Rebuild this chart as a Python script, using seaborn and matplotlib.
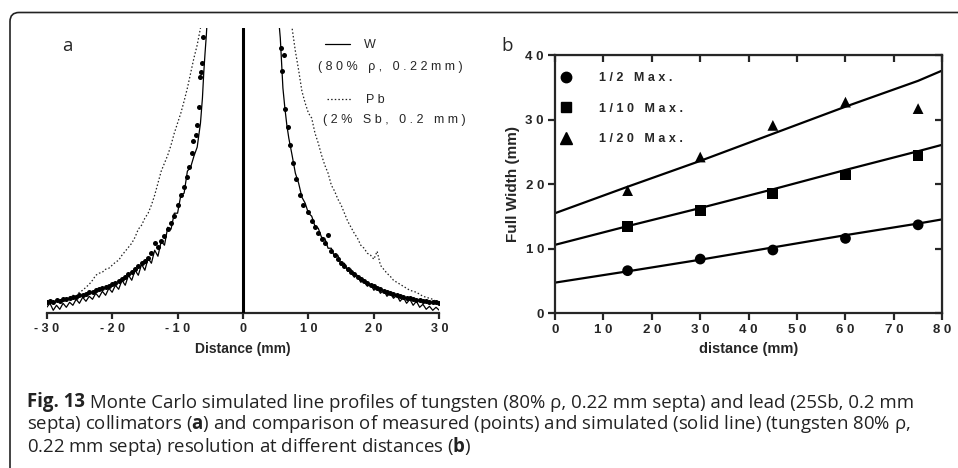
import numpy as np
import pandas as pd
import seaborn as sns
import matplotlib
matplotlib.use("Agg")
import matplotlib.pyplot as plt
from matplotlib.lines import Line2D
from matplotlib.patches import FancyBboxPatch
from matplotlib.transforms import IdentityTransform

sns.set_style("ticks")
plt.rcParams['font.family'] = ['Liberation Sans', 'DejaVu Sans']
plt.rcParams['mathtext.fontset'] = 'custom'
plt.rcParams['mathtext.rm'] = 'Open Sans'
plt.rcParams['mathtext.bf'] = 'Open Sans:bold'

# ---------------- Panel a data (relative counts, arbitrary units) ----------------
w_left_x = [-30, -29.5, -29, -28.5, -28, -27.5, -27, -26.5, -26, -25.5, -25, -24.5, -24, -23.5, -23,
            -22.5, -22, -21.5, -21, -20.5, -20, -19.5, -19, -18.5, -18, -17.5, -17, -16.5, -16, -15.5,
            -15, -14.5, -14, -13.5, -13, -12.5, -12, -11.5, -11, -10.5, -10, -9.5, -9, -8.5, -8, -7.5,
            -7, -6.5, -6.2, -6, -5.8, -5.6, -5.5]
w_left_y = [6, 10, 3, 8, 4, 10, 6, 11, 8, 14, 10, 16, 12, 17, 14,
            20, 16, 22, 18, 25, 21, 28, 24, 33, 28, 38, 33, 43, 38, 49,
            43, 55, 50, 63, 57, 72, 68, 86, 84, 100, 100, 118, 120, 142, 146, 157,
            166, 190, 215, 240, 260, 278, 290]

w_right_x = [5.5, 5.7, 5.9, 6.1, 6.4, 6.7, 7, 7.5, 8, 8.5, 9, 9.5, 10, 10.5, 11, 11.5, 12, 12.5, 13,
             13.5, 14, 14.5, 15, 15.5, 16, 16.5, 17, 17.5, 18, 18.5, 19, 19.5, 20, 20.5, 21, 21.5,
             22, 22.5, 23, 23.5, 24, 24.5, 25, 25.5, 26, 26.5, 27, 27.5, 28, 28.5, 29, 29.5, 30]
w_right_y = [290, 275, 250, 225, 205, 188, 175, 158, 140, 130, 116, 110, 100, 97, 87, 85, 76, 75, 65,
             65, 56, 58, 48, 50, 42, 44, 36, 38, 31, 33, 27, 29, 23, 26, 20, 23,
             17, 20, 15, 18, 12, 16, 10, 14, 8, 12, 6, 9, 4, 7, 3, 6, 3]

pb_left_x = [-30, -29.5, -29, -28.5, -28, -27.5, -27, -26.5, -26, -25.5, -25, -24.5, -24, -23.5, -23,
             -22.5, -22, -21.5, -21, -20.5, -20, -19.5, -19, -18.5, -18, -17.5, -17, -16.5, -16, -15.5,
             -15, -14.5, -14, -13.5, -13, -12.5, -12, -11.5, -11, -10.5, -10, -9.5, -9, -8.5, -8, -7.5,
             -7, -6.5, -6.2]
pb_left_y = [10, 12, 11, 13, 12, 14, 15, 16, 18, 17, 21, 23, 26, 29, 33,
             38, 40, 41, 44, 45, 48, 51, 53, 58, 62, 66, 70, 76, 84, 88,
             95, 100, 108, 118, 130, 142, 150, 158, 168, 180, 190, 200, 212, 225, 240, 255,
             268, 285, 295]

pb_right_x = [7.3, 7.5, 8, 8.5, 9, 9.5, 10, 10.5, 11, 11.5, 12, 12.5, 13, 13.5, 14, 14.5, 15, 15.5,
              16, 16.5, 17, 17.5, 18, 18.5, 19, 19.5, 20, 20.5, 21, 21.5, 22, 22.5, 23, 23.5, 24,
              24.5, 25, 25.5, 26, 26.5, 27, 27.5, 28, 28.5, 29, 29.5, 30]
pb_right_y = [295, 285, 262, 243, 222, 210, 200, 195, 180, 170, 158, 148, 140, 128, 122, 114, 108, 100,
              92, 86, 80, 75, 68, 65, 60, 58, 54, 62, 48, 44, 40, 37, 33, 31, 29,
              27, 25, 23, 22, 21, 19, 17, 16, 15, 14, 12, 11]

meas_x = [-30, -29.5, -29, -28.5, -28, -27.5, -27, -26.5, -26, -25.5, -25, -24.5, -24, -23.5, -23,
          -22.5, -22, -21.5, -21, -20.5, -20, -19.5, -19, -18.5, -18, -17.5, -17, -16.5, -16, -15.5,
          -15, -14.5, -14, -13.5, -13, -12.5, -12, -11.5, -11, -10.5, -10, -9.5, -9, -8.5, -8.2,
          -7.8, -7.6, -7.2, -7.0, -6.7, -6.5, -6.35, -6.2, -6.05,
          5.8, 6.0, 6.2, 6.4, 6.85, 7.2, 7.6, 8.1, 8.7, 9.2, 10, 10.5, 11, 11.5, 12, 12.5, 13,
          13.5, 14, 14.5, 15, 15.5, 16, 16.5, 17, 17.5, 18, 18.5, 19, 19.5, 20, 20.5, 21, 21.5,
          22, 22.5, 23, 23.5, 24, 24.5, 25, 25.5, 26, 26.5, 27, 27.5, 28, 28.5, 29, 29.5, 30]
meas_y = [11, 12, 11, 13, 12, 14, 14, 15, 16, 16, 18, 18, 19, 21, 21,
          23, 24, 25, 26, 27, 29, 30, 32, 34, 36, 39, 41, 44, 47, 50,
          52, 55, 60, 70, 66, 72, 77, 84, 90, 97, 108, 118, 126, 136, 146,
          160, 172, 178, 188, 206, 236, 241, 250, 276,
          265, 242, 258, 204, 186, 168, 150, 134, 118, 108, 101, 92, 86, 80, 74, 70, 78,
          62, 58, 54, 50, 47, 44, 41, 39, 36, 34, 32, 30, 28, 27, 25, 24, 22,
          21, 20, 19, 18, 17, 16, 15, 15, 14, 13, 13, 12, 12, 11, 11, 11, 10]

a_ticks = [-30, -20, -10, 0, 10, 20, 30]

# ---------------- Panel b data ----------------
dist = [15, 30, 45, 60, 75]
half_max = [6.6, 8.4, 9.8, 11.6, 13.7]
tenth_max = [13.4, 15.9, 18.6, 21.4, 24.4]
twentieth_max = [19.0, 24.2, 29.1, 32.7, 31.7]

sim_dist = [0, 15, 30, 45, 60, 75, 80]
sim_half = [4.75, 6.5, 8.3, 10.2, 12.1, 13.9, 14.55]
sim_tenth = [10.6, 13.5, 16.3, 19.2, 22.2, 25.1, 26.1]
sim_twentieth = [15.5, 19.6, 23.6, 27.8, 32.0, 36.0, 37.6]

series_labels = ["1/2 Max.", "1/10 Max.", "1/20 Max."]
b_xticks = [0, 10, 20, 30, 40, 50, 60, 70, 80]
b_yticks = [0, 10, 20, 30, 40]


def spaced(s):
    return " ".join(s)


W, H = 958, 468
fig = plt.figure(figsize=(W / 100, H / 100), dpi=100)


def ax_rect(l, r, t, b):
    return [l / W, 1 - b / H, (r - l) / W, (b - t) / H]


# ---------------- Panel a ----------------
ax = fig.add_axes(ax_rect(46.7, 439.3, 28, 313.3))
for xs, ys in [(w_left_x, w_left_y), (w_right_x, w_right_y)]:
    sns.lineplot(x=xs, y=ys, ax=ax, color="black", lw=0.9, sort=False, estimator=None, zorder=3)
for xs, ys in [(pb_left_x, pb_left_y), (pb_right_x, pb_right_y)]:
    sns.lineplot(x=xs, y=ys, ax=ax, color="#222222", lw=0.9, ls=(0, (1.2, 1.7)), sort=False,
                 estimator=None, zorder=2)
sns.scatterplot(x=meas_x, y=meas_y, ax=ax, color="black", s=13, linewidth=0, zorder=4)
ax.axvline(0, color="black", lw=2.2, zorder=5)
ax.set_xlim(-30, 30)
ax.set_ylim(0, 285)
ax.set_yticks([])
for sp in ["left", "top", "right"]:
    ax.spines[sp].set_visible(False)
ax.spines["bottom"].set_linewidth(1.6)
ax.set_xticks(a_ticks, [spaced(str(v)) for v in a_ticks])
ax.tick_params(axis="x", direction="out", length=4, width=1.6, pad=3, labelsize=9)
for lab in ax.get_xticklabels():
    lab.set_fontweight("bold")
ax.set_xlabel("Distance (mm)", fontsize=10, fontweight="bold", labelpad=5)

# legend of panel a (handles + text, in axes-fraction coords)
def fx(px):
    return (px - 46.7) / (439.3 - 46.7)

def fy(py):
    return (313.3 - py) / (313.3 - 28)

ax.add_line(Line2D([fx(325), fx(350)], [fy(44), fy(44)], transform=ax.transAxes, color="black", lw=0.9))
ax.add_line(Line2D([fx(327), fx(351)], [fy(99), fy(99)], transform=ax.transAxes, color="#222222",
                   lw=0.9, ls=(0, (1.2, 1.7))))
ax.text(fx(364), fy(45), "W", transform=ax.transAxes, fontsize=9, va="center", ha="left")
ax.text(fx(318), fy(67), spaced("(80% ρ, 0.22mm)"), transform=ax.transAxes, fontsize=9,
        va="center", ha="left")
ax.text(fx(366), fy(100), spaced("Pb"), transform=ax.transAxes, fontsize=9, va="center", ha="left")
ax.text(fx(323), fy(120), spaced("(2% Sb, 0.2 mm)"), transform=ax.transAxes, fontsize=9,
        va="center", ha="left")

# ---------------- Panel b ----------------
bx = fig.add_axes(ax_rect(555, 942.3, 55, 313.3))
for ys in [sim_half, sim_tenth, sim_twentieth]:
    sns.lineplot(x=sim_dist, y=ys, ax=bx, color="black", lw=1.6, estimator=None, zorder=2)
meas_df = pd.DataFrame({
    "distance": dist * 3,
    "width": half_max + tenth_max + twentieth_max,
    "series": [series_labels[0]] * 5 + [series_labels[1]] * 5 + [series_labels[2]] * 5,
})
sns.scatterplot(data=meas_df, x="distance", y="width", style="series",
                markers={series_labels[0]: "o", series_labels[1]: "s", series_labels[2]: "^"},
                color="black", s=60, linewidth=0, ax=bx, zorder=3, legend=False)
bx.set_xlim(0, 80)
bx.set_ylim(0, 40)
bx.set_xticks(b_xticks, [spaced(str(v)) for v in b_xticks])
bx.set_yticks(b_yticks, [spaced(str(v)) for v in b_yticks])
for sp in bx.spines.values():
    sp.set_linewidth(1.6)
bx.tick_params(direction="out", length=5, width=1.6, pad=3, labelsize=9.5)
for lab in bx.get_xticklabels() + bx.get_yticklabels():
    lab.set_fontweight("bold")
sec_x = bx.secondary_xaxis("top")
sec_x.set_xticks(b_xticks)
sec_x.tick_params(direction="in", length=5, width=1.6, labeltop=False)
sec_y = bx.secondary_yaxis("right")
sec_y.set_yticks(b_yticks)
sec_y.tick_params(direction="in", length=5, width=1.6, labelright=False)
bx.set_xlabel("distance (mm)", fontsize=10.5, fontweight="bold", labelpad=4)
bx.set_ylabel("Full Width (mm)", fontsize=11, fontweight="bold", labelpad=4)

handles = [Line2D([], [], ls="none", marker=m, color="black", markersize=ms)
           for m, ms in zip(["o", "s", "^"], [7.5, 7.5, 8])]
bx.legend(handles, [spaced(l) for l in series_labels], loc="upper left",
          bbox_to_anchor=((560 - 555) / 387.3, 1 - (72 - 55) / 258.3),
          frameon=False, borderpad=0, borderaxespad=0, handlelength=1.0, handletextpad=2.15,
          labelspacing=1.5, prop={"weight": "bold", "size": 9})

# ---------------- panel letters ----------------
fig.text(62 / W, 1 - 46 / H, "a", fontsize=13.5, family="Open Sans", va="center", ha="left")
fig.text(501 / W, 1 - 46 / H, "b", fontsize=13.5, family="Open Sans", va="center", ha="left")

# ---------------- caption ----------------
cap_fs = 13.4
t1 = fig.text(27 / W, 1 - 401.5 / H, "Fig. 13", fontsize=cap_fs, family="Open Sans",
              fontweight="bold", va="center", ha="left", color="#222222")
ax.annotate(" Monte Carlo simulated line profiles of tungsten (80% ρ, 0.22 mm septa) and lead (25Sb, 0.2 mm",
            xy=(1, 0), xycoords=t1, va="bottom", ha="left", fontsize=cap_fs, family="Open Sans",
            color="#222222", annotation_clip=False)
cap_rest = [
    r"septa) collimators ($\mathbf{a}$) and comparison of measured (points) and simulated (solid line) (tungsten 80% ρ,",
    r"0.22 mm septa) resolution at different distances ($\mathbf{b}$)",
]
for i, line in enumerate(cap_rest):
    fig.text(27 / W, 1 - (424 + 22.5 * i) / H, line, fontsize=cap_fs, family="Open Sans",
             va="center", ha="left", color="#222222")

# ---------------- rounded frame ----------------
frame = FancyBboxPatch((10, -40), 1100, H - 12.5 + 40, boxstyle="round,pad=0,rounding_size=9",
                       transform=IdentityTransform(), fill=False, lw=1.2, ec="#222222")
fig.patches.append(frame)

fig.savefig("out.png", dpi=100)
